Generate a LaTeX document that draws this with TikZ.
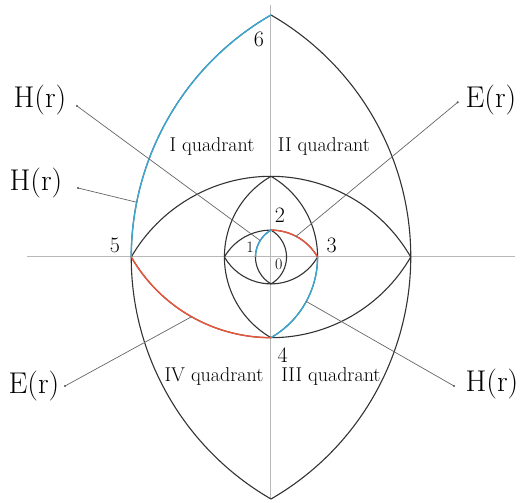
\documentclass[tikz,border=0pt]{standalone}
\usepackage{tikz}
\definecolor{hblue}{HTML}{3AA8D0}
\definecolor{ered}{HTML}{E8553A}
\begin{document}
\begin{tikzpicture}[x=1pt,y=1pt,
  lens/.style={draw=black!80, line width=1.1pt},
  axisline/.style={draw=black!28, line width=1pt},
  lead/.style={draw=black!60, line width=0.7pt},
  hcol/.style={draw=hblue, line width=1.4pt},
  ecol/.style={draw=ered, line width=1.4pt},
  bigtxt/.style={inner sep=0pt, font=\fontsize{30}{32}\selectfont},
  numtxt/.style={inner sep=0pt, font=\fontsize{22}{24}\selectfont},
  smalltxt/.style={inner sep=0pt, font=\fontsize{16}{18}\selectfont},
  quadtxt/.style={inner sep=0pt, font=\fontsize{20}{22}\selectfont},
  dotmark/.style={circle, fill=black!70, inner sep=0pt, minimum size=2.4pt}]
\useasboundingbox (-271,-246) rectangle (249,257);

% axes
\coordinate (AxL) at (-244,0);
\coordinate (AxR) at (244,0);
\coordinate (AxT) at (0,252);
\coordinate (AxB) at (0,-242);
\draw[axisline] (AxL) -- (AxR);
\draw[axisline] (AxT) -- (AxB);

% tips
\coordinate (P6) at (0,242);
\coordinate (P5) at (-139.72,0);
\coordinate (P4) at (0,-80.67);
\coordinate (P3) at (46.57,0);
\coordinate (P2) at (0,26.89);
\coordinate (P1) at (-15.52,0);

% L0: big vertical lens, tips +-242, R=279.44
\draw[lens] (0,-242) arc[start angle=-60,end angle=60,radius=279.44];
\draw[lens] (0,242) arc[start angle=120,end angle=240,radius=279.44];
% L1: large horizontal lens, tips +-139.72, R=161.33
\draw[lens] (139.72,0) arc[start angle=30,end angle=150,radius=161.33];
\draw[lens] (-139.72,0) arc[start angle=210,end angle=330,radius=161.33];
% L2: medium vertical lens, tips +-80.67, R=93.14
\draw[lens] (0,-80.67) arc[start angle=-60,end angle=60,radius=93.14];
\draw[lens] (0,80.67) arc[start angle=120,end angle=240,radius=93.14];
% L3: small horizontal lens, tips +-46.57, R=53.78
\draw[lens] (46.57,0) arc[start angle=30,end angle=150,radius=53.78];
\draw[lens] (-46.57,0) arc[start angle=210,end angle=330,radius=53.78];
% L4: smallest vertical lens, tips +-26.89, R=31.05
\draw[lens] (0,-26.89) arc[start angle=-60,end angle=60,radius=31.05];
\draw[lens] (0,26.89) arc[start angle=120,end angle=240,radius=31.05];

% coloured spiral
\draw[hcol] (P6) arc[start angle=120,end angle=180,radius=279.44];
\draw[ecol] (P5) arc[start angle=210,end angle=270,radius=161.33];
\draw[hcol] (P4) arc[start angle=-60,end angle=0,radius=93.14];
\draw[ecol] (P3) arc[start angle=30,end angle=90,radius=53.78];
\draw[hcol] (P2) arc[start angle=120,end angle=180,radius=31.05];

% leader targets on arcs
\coordinate (T1) at ([shift={(15.52,0)}]148:31.05);
\coordinate (T2) at ([shift={(139.72,0)}]168.7:279.44);
\coordinate (T3) at ([shift={(0,-26.89)}]62.2:53.78);
\coordinate (T4) at ([shift={(0,80.67)}]240.5:161.33);
\coordinate (T5) at ([shift={(-46.57,0)}]-28.5:93.14);

% dots
\node[dotmark] (D1) at (-194,151) {};
\node[dotmark] (D2) at (-193,69) {};
\node[dotmark] (D3) at (186.7,154.7) {};
\node[dotmark] (D4) at (-206,-129) {};
\node[dotmark] (D5) at (183,-129) {};

\draw[lead] (D1.center) -- (T1);
\draw[lead] (D2.center) -- (T2);
\draw[lead] (D3.center) -- (T3);
\draw[lead] (D4.center) -- (T4);
\draw[lead] (D5.center) -- (T5);

% labels
\node[bigtxt] (L1) at (-231,157) {H(r)};
\node[bigtxt] (L2) at (-235,74) {H(r)};
\node[bigtxt] (L3) at (220,157) {E(r)};
\node[bigtxt] (L4) at (-237,-129) {E(r)};
\node[bigtxt] (L5) at (221,-127) {H(r)};

% numbers
\node[numtxt] (N6) at (-12,217.5) {6};
\node[numtxt] (N5) at (-156,12) {5};
\node[numtxt] (N4) at (11.7,-98) {4};
\node[numtxt] (N3) at (60.7,12) {3};
\node[numtxt] (N2) at (9,42) {2};
\node[smalltxt] (N1) at (-21,10) {1};
\node[smalltxt] (N0) at (7.7,-7) {0};

% quadrants
\node[quadtxt] (Q1) at (-59,110) {I quadrant};
\node[quadtxt] (Q2) at (53,110) {II quadrant};
\node[quadtxt] (Q4) at (-57,-120) {IV quadrant};
\node[quadtxt] (Q3) at (60,-120) {III quadrant};
\end{tikzpicture}
\end{document}
